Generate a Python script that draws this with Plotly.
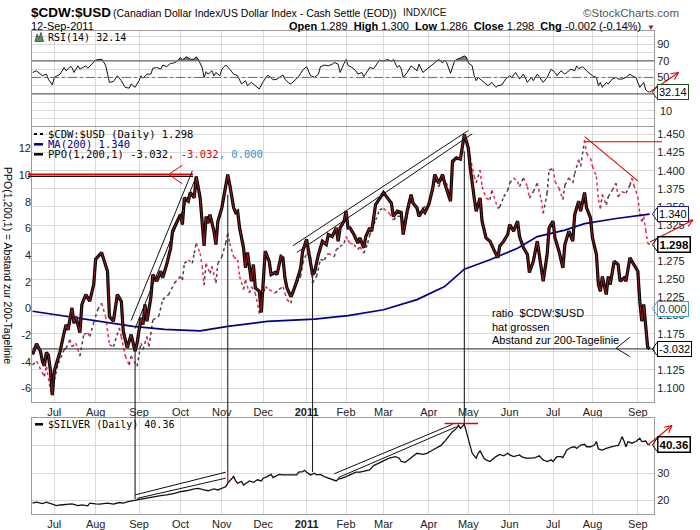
import numpy as np
import plotly.graph_objects as go

# ---------------- data ----------------
ppo_series = [
("2010-06-16",-3.45),("2010-06-18",-2.65),("2010-06-22",-3.2),("2010-06-23",-3.95),("2010-06-24",-4.3),
("2010-06-25",-3.3),("2010-06-28",-3.5),("2010-06-29",-4.6),("2010-06-30",-6.5),("2010-07-01",-4.7),
("2010-07-02",-4.2),("2010-07-07",-3.2),("2010-07-09",-1.8),("2010-07-12",-1.2),("2010-07-13",-1.6),
("2010-07-14",-0.7),("2010-07-15",0.05),("2010-07-16",-1.1),("2010-07-19",-0.6),("2010-07-21",-1.8),
("2010-07-22",0.3),("2010-07-26",1.05),("2010-07-28",0.55),("2010-07-30",1.8),("2010-08-02",3.7),
("2010-08-05",4.2),("2010-08-10",2.8),("2010-08-11",-0.6),("2010-08-13",-0.95),("2010-08-17",1.05),
("2010-08-19",0.55),("2010-08-20",-1.7),("2010-08-24",-2.95),("2010-08-26",-1.95),("2010-08-30",-3.2),
("2010-08-31",-2.6),("2010-09-02",-0.7),("2010-09-03",-1.2),("2010-09-07",0.3),("2010-09-08",-0.95),
("2010-09-10",0.8),("2010-09-13",2.55),("2010-09-15",2.05),("2010-09-17",2.8),("2010-09-20",2.3),
("2010-09-22",3.3),("2010-09-24",4.5),("2010-09-27",5.8),("2010-10-01",7.05),("2010-10-04",6.3),
("2010-10-05",8.3),("2010-10-07",8.05),("2010-10-08",8.7),("2010-10-12",8.3),("2010-10-13",9.9),
("2010-10-15",8.3),("2010-10-18",6.55),("2010-10-19",4.7),("2010-10-20",6.9),("2010-10-21",6.4),
("2010-10-22",7.05),("2010-10-26",5.8),("2010-10-27",4.8),("2010-10-28",6.55),("2010-11-01",7.55),
("2010-11-03",9.05),("2010-11-04",10.05),("2010-11-05",9.3),("2010-11-09",7.55),("2010-11-10",7.2),
("2010-11-11",7.3),("2010-11-12",6.05),("2010-11-16",4.55),("2010-11-17",3.05),("2010-11-18",4.2),
("2010-11-22",2.05),("2010-11-23",3.3),("2010-11-24",1.55),("2010-11-29",1.3),("2010-11-30",-0.3),
("2010-12-01",2.05),("2010-12-02",4.3),("2010-12-06",3.55),("2010-12-07",2.55),("2010-12-09",2.7),
("2010-12-10",2.55),("2010-12-14",3.9),("2010-12-15",3.8),("2010-12-16",2.3),("2010-12-17",1.55),
("2010-12-21",0.9),("2010-12-22",1.2),("2010-12-27",2.05),("2010-12-29",3.05),("2010-12-30",4.3),
("2011-01-03",5.2),("2011-01-04",4.3),("2011-01-06",2.55),("2011-01-07",2.7),("2011-01-11",4.05),
("2011-01-13",5.05),("2011-01-18",4.8),("2011-01-19",5.55),("2011-01-21",5.4),("2011-01-25",6.05),
("2011-01-26",5.05),("2011-01-27",6.05),("2011-01-31",6.55),("2011-02-01",7.3),("2011-02-02",6.05),
("2011-02-03",6.05),("2011-02-07",5.55),("2011-02-09",4.9),("2011-02-10",5.3),("2011-02-14",4.55),
("2011-02-15",5.4),("2011-02-17",6.05),("2011-02-18",5.8),("2011-02-23",7.8),("2011-02-25",8.3),
("2011-03-01",8.7),("2011-03-03",8.3),("2011-03-07",7.9),("2011-03-08",6.9),("2011-03-10",7.3),
("2011-03-14",7.2),("2011-03-15",5.55),("2011-03-17",7.3),("2011-03-21",8.55),("2011-03-22",7.9),
("2011-03-24",7.55),("2011-03-25",6.9),("2011-03-29",7.4),("2011-03-30",7.2),("2011-04-01",7.8),
("2011-04-05",9.05),("2011-04-06",10.05),("2011-04-08",9.4),("2011-04-12",10.05),("2011-04-13",9.4),
("2011-04-18",8.05),("2011-04-19",11.05),("2011-04-21",11.3),("2011-04-26",11.2),("2011-04-27",12.05),
("2011-04-28",13.05),("2011-05-02",12.05),("2011-05-03",10.55),("2011-05-05",8.3),("2011-05-06",7.3),
("2011-05-10",8.3),("2011-05-11",6.55),("2011-05-13",5.3),("2011-05-17",5.05),("2011-05-19",4.4),
("2011-05-23",3.8),("2011-05-24",4.7),("2011-05-26",5.05),("2011-05-31",5.55),("2011-06-01",6.3),
("2011-06-03",5.8),("2011-06-07",6.55),("2011-06-08",5.4),("2011-06-10",4.55),("2011-06-14",4.05),
("2011-06-15",2.7),("2011-06-17",3.55),("2011-06-21",5.05),("2011-06-22",4.05),("2011-06-24",2.05),
("2011-06-28",4.05),("2011-06-29",6.05),("2011-07-01",6.55),("2011-07-05",5.3),("2011-07-07",4.3),
("2011-07-11",3.05),("2011-07-12",4.8),("2011-07-14",5.8),("2011-07-18",5.05),("2011-07-19",7.05),
("2011-07-21",8.05),("2011-07-22",7.3),("2011-07-26",8.7),("2011-07-27",7.55),("2011-07-29",6.8),
("2011-08-01",5.3),("2011-08-03",4.05),("2011-08-04",1.8),("2011-08-05",1.3),("2011-08-08",2.4),
("2011-08-10",1.05),("2011-08-11",2.4),("2011-08-12",1.8),("2011-08-16",3.55),("2011-08-18",3.3),
("2011-08-19",2.05),("2011-08-23",2.3),("2011-08-24",2.05),("2011-08-26",3.8),("2011-08-30",3.3),
("2011-08-31",3.0),("2011-09-01",2.8),("2011-09-02",0.55),("2011-09-06",-0.95),("2011-09-07",0.3),
("2011-09-08",-1.2),("2011-09-09",-2.9),("2011-09-12",-3.032)]

price_series = [
("2010-06-16",1.132),("2010-06-18",1.137),("2010-06-23",1.121),("2010-06-24",1.116),("2010-06-25",1.130),
("2010-06-29",1.098),("2010-06-30",1.092),("2010-07-01",1.111),("2010-07-06",1.134),("2010-07-09",1.153),
("2010-07-12",1.155),("2010-07-14",1.167),("2010-07-15",1.157),("2010-07-19",1.162),("2010-07-21",1.144),
("2010-07-23",1.174),("2010-07-27",1.176),("2010-07-28",1.171),("2010-07-30",1.190),("2010-08-03",1.208),
("2010-08-05",1.217),("2010-08-09",1.199),("2010-08-11",1.160),("2010-08-13",1.157),("2010-08-18",1.183),
("2010-08-19",1.171),("2010-08-23",1.144),("2010-08-25",1.132),("2010-08-26",1.144),("2010-08-31",1.130),
("2010-09-02",1.162),("2010-09-03",1.153),("2010-09-08",1.171),("2010-09-09",1.157),("2010-09-13",1.194),
("2010-09-16",1.199),("2010-09-20",1.222),("2010-09-23",1.229),("2010-09-28",1.245),("2010-10-01",1.254),
("2010-10-04",1.249),("2010-10-05",1.272),("2010-10-07",1.277),("2010-10-11",1.272),("2010-10-12",1.286),
("2010-10-13",1.300),("2010-10-15",1.286),("2010-10-18",1.268),("2010-10-19",1.242),("2010-10-20",1.272),
("2010-10-22",1.258),("2010-10-25",1.268),("2010-10-27",1.245),("2010-10-28",1.272),("2010-11-01",1.281),
("2010-11-03",1.300),("2010-11-04",1.314),("2010-11-05",1.300),("2010-11-09",1.281),("2010-11-11",1.277),
("2010-11-12",1.254),("2010-11-16",1.236),("2010-11-17",1.249),("2010-11-19",1.231),("2010-11-22",1.240),
("2010-11-24",1.231),("2010-11-29",1.203),("2010-11-30",1.217),("2010-12-02",1.240),("2010-12-06",1.236),
("2010-12-09",1.231),("2010-12-13",1.236),("2010-12-15",1.240),("2010-12-16",1.231),("2010-12-17",1.222),
("2010-12-21",1.217),("2010-12-22",1.231),("2010-12-27",1.245),("2010-12-29",1.254),("2010-12-30",1.272),
("2011-01-03",1.286),("2011-01-05",1.281),("2011-01-06",1.245),("2011-01-10",1.254),("2011-01-12",1.277),
("2011-01-14",1.277),("2011-01-19",1.286),("2011-01-24",1.281),("2011-01-25",1.291),("2011-01-27",1.295),
("2011-01-31",1.300),("2011-02-01",1.309),("2011-02-02",1.304),("2011-02-03",1.300),("2011-02-07",1.298),
("2011-02-09",1.291),("2011-02-10",1.295),("2011-02-14",1.286),("2011-02-16",1.300),("2011-02-17",1.311),
("2011-02-23",1.332),("2011-02-25",1.346),("2011-03-01",1.348),("2011-03-04",1.341),("2011-03-08",1.332),
("2011-03-10",1.337),("2011-03-14",1.337),("2011-03-15",1.316),("2011-03-17",1.339),("2011-03-21",1.360),
("2011-03-23",1.350),("2011-03-25",1.341),("2011-03-29",1.348),("2011-04-01",1.355),("2011-04-05",1.371),
("2011-04-06",1.387),("2011-04-08",1.378),("2011-04-12",1.390),("2011-04-14",1.383),("2011-04-18",1.364),
("2011-04-19",1.410),("2011-04-21",1.415),("2011-04-26",1.417),("2011-04-27",1.424),("2011-04-28",1.449),
("2011-05-02",1.431),("2011-05-03",1.419),("2011-05-05",1.392),("2011-05-06",1.383),("2011-05-10",1.401),
("2011-05-11",1.378),("2011-05-13",1.362),("2011-05-17",1.360),("2011-05-18",1.373),("2011-05-23",1.348),
("2011-05-24",1.350),("2011-05-26",1.364),("2011-05-31",1.373),("2011-06-01",1.383),("2011-06-03",1.390),
("2011-06-07",1.385),("2011-06-08",1.378),("2011-06-10",1.390),("2011-06-14",1.378),("2011-06-15",1.362),
("2011-06-17",1.371),("2011-06-21",1.383),("2011-06-23",1.360),("2011-06-24",1.341),("2011-06-28",1.369),
("2011-06-29",1.401),("2011-07-01",1.403),("2011-07-05",1.385),("2011-07-07",1.376),("2011-07-11",1.360),
("2011-07-12",1.380),("2011-07-14",1.390),("2011-07-18",1.383),("2011-07-19",1.396),("2011-07-21",1.415),
("2011-07-22",1.406),("2011-07-26",1.442),("2011-07-27",1.424),("2011-07-29",1.417),("2011-08-01",1.406),
("2011-08-03",1.392),("2011-08-04",1.360),("2011-08-05",1.348),("2011-08-08",1.367),("2011-08-10",1.353),
("2011-08-11",1.364),("2011-08-15",1.373),("2011-08-17",1.383),("2011-08-18",1.364),("2011-08-22",1.371),
("2011-08-24",1.369),("2011-08-26",1.380),("2011-08-29",1.390),("2011-08-30",1.380),("2011-09-01",1.364),
("2011-09-02",1.341),("2011-09-06",1.330),("2011-09-07",1.337),("2011-09-08",1.318),("2011-09-09",1.300),
("2011-09-12",1.298)]

ma_series = [
("2010-06-16",1.206),("2010-07-12",1.199),("2010-08-04",1.192),("2010-08-27",1.185),("2010-09-21",1.181),
("2010-10-05",1.180),("2010-10-15",1.179),("2010-11-04",1.185),("2010-12-03",1.192),("2011-01-07",1.195),
("2011-02-02",1.200),("2011-03-01",1.208),("2011-03-24",1.222),("2011-04-13",1.240),("2011-04-28",1.264),
("2011-05-17",1.277),("2011-06-07",1.293),("2011-06-21",1.309),("2011-07-12",1.318),("2011-07-26",1.327),
("2011-08-17",1.334),("2011-09-12",1.340)]

rsi_series = [
("2010-06-16",56),("2010-06-18",58),("2010-06-23",52),("2010-06-25",54),("2010-06-28",48),("2010-06-30",41),
("2010-07-01",50),("2010-07-07",54),("2010-07-09",62),("2010-07-12",58),("2010-07-14",63),("2010-07-15",62),
("2010-07-16",56),("2010-07-20",64),("2010-07-21",60),("2010-07-26",64),("2010-07-27",61),("2010-07-30",68),
("2010-08-02",71),("2010-08-05",72),("2010-08-09",65),("2010-08-11",44),("2010-08-13",45),("2010-08-17",52),
("2010-08-19",46),("2010-08-23",38),("2010-08-25",37),("2010-08-26",42),("2010-08-30",38),("2010-09-01",46),
("2010-09-02",52),("2010-09-03",49),("2010-09-08",54),("2010-09-10",54),("2010-09-13",61),("2010-09-15",62),
("2010-09-17",60),("2010-09-20",65),("2010-09-22",63),("2010-09-24",67),("2010-09-27",67),("2010-09-29",69),
("2010-10-01",74),("2010-10-04",71),("2010-10-06",75),("2010-10-08",72),("2010-10-12",72),("2010-10-13",75),
("2010-10-14",72),("2010-10-18",62),("2010-10-19",50),("2010-10-20",57),("2010-10-21",54),("2010-10-25",58),
("2010-10-26",52),("2010-10-27",56),("2010-10-29",52),("2010-11-01",60),("2010-11-03",65),("2010-11-05",60),
("2010-11-09",54),("2010-11-11",52),("2010-11-15",42),("2010-11-17",46),("2010-11-18",40),("2010-11-22",44),
("2010-11-24",40),("2010-11-29",36),("2010-12-01",45),("2010-12-03",52),("2010-12-06",52),("2010-12-08",47),
("2010-12-10",48),("2010-12-13",50),("2010-12-15",53),("2010-12-16",48),("2010-12-20",43),("2010-12-21",42),
("2010-12-23",46),("2010-12-28",51),("2010-12-30",59),("2011-01-03",63),("2011-01-05",52),("2011-01-07",50),
("2011-01-11",54),("2011-01-12",63),("2011-01-14",65),("2011-01-19",64),("2011-01-21",66),("2011-01-24",68),
("2011-01-26",66),("2011-01-27",56),("2011-01-31",67),("2011-02-01",71.6),("2011-02-02",64.5),("2011-02-04",62),
("2011-02-08",58),("2011-02-09",54),("2011-02-11",56),("2011-02-14",51),("2011-02-16",58),("2011-02-17",62),
("2011-02-22",60.6),("2011-02-24",68),("2011-02-25",71),("2011-03-01",69.6),("2011-03-03",71.6),("2011-03-07",69.6),
("2011-03-08",71.6),("2011-03-10",62),("2011-03-11",64.5),("2011-03-14",60),("2011-03-15",50),("2011-03-17",56),
("2011-03-21",64),("2011-03-22",62),("2011-03-24",58),("2011-03-25",66),("2011-03-29",56),("2011-03-30",58),
("2011-04-01",62),("2011-04-05",66),("2011-04-06",68),("2011-04-08",71.6),("2011-04-12",67.6),("2011-04-13",71),
("2011-04-14",68),("2011-04-18",55),("2011-04-20",69.6),("2011-04-21",71.6),("2011-04-26",73.5),("2011-04-28",76),
("2011-04-29",74.7),("2011-05-02",67.6),("2011-05-04",64),("2011-05-05",52),("2011-05-06",46),("2011-05-09",50),
("2011-05-11",46),("2011-05-13",42),("2011-05-16",40),("2011-05-18",44),("2011-05-20",38),("2011-05-23",40),
("2011-05-25",41),("2011-05-27",48),("2011-06-01",52),("2011-06-02",50),("2011-06-06",56),("2011-06-07",52),
("2011-06-08",48),("2011-06-10",54),("2011-06-14",44),("2011-06-16",50),("2011-06-17",46),("2011-06-21",54),
("2011-06-23",48),("2011-06-24",44),("2011-06-28",50),("2011-06-30",60),("2011-07-05",56),("2011-07-06",52),
("2011-07-08",58),("2011-07-12",54),("2011-07-13",56),("2011-07-15",60),("2011-07-19",58),("2011-07-20",64),
("2011-07-21",60.6),("2011-07-25",63),("2011-07-27",58),("2011-07-28",56),("2011-08-01",52),("2011-08-03",50),
("2011-08-04",40),("2011-08-05",44),("2011-08-08",38),("2011-08-10",44),("2011-08-11",42),("2011-08-15",48),
("2011-08-17",50),("2011-08-18",48),("2011-08-22",48),("2011-08-24",50),("2011-08-26",54),("2011-08-29",52),
("2011-08-31",50),("2011-09-01",44),("2011-09-02",38),("2011-09-07",44),("2011-09-08",35),("2011-09-09",33),
("2011-09-12",32.14)]

silver_series = [
("2010-06-16",19.05),("2010-06-18",19.4),("2010-06-23",18.9),("2010-06-25",19.4),("2010-06-30",18.7),
("2010-07-02",18.2),("2010-07-07",18.4),("2010-07-12",18.7),("2010-07-15",18.8),("2010-07-20",18.2),
("2010-07-22",18.4),("2010-07-27",18.1),("2010-07-28",19.05),("2010-08-02",18.8),("2010-08-04",18.7),
("2010-08-10",19.05),("2010-08-13",18.7),("2010-08-18",19.3),("2010-08-20",19.05),("2010-08-25",19.7),
("2010-08-27",19.9),("2010-09-02",20.5),("2010-09-08",20.9),("2010-09-13",21.4),("2010-09-17",21.8),
("2010-09-22",22.1),("2010-09-28",22.6),("2010-10-01",23.3),("2010-10-06",23.6),("2010-10-12",24.3),
("2010-10-14",24.5),("2010-10-19",23.9),("2010-10-21",23.6),("2010-10-26",24.3),("2010-10-28",23.9),
("2010-11-02",24.8),("2010-11-03",25.1),("2010-11-04",26.4),("2010-11-09",28.8),("2010-11-10",27.2),
("2010-11-11",26.4),("2010-11-15",27.0),("2010-11-16",25.7),("2010-11-18",26.7),("2010-11-19",27.2),
("2010-11-23",26.7),("2010-11-26",27.6),("2010-11-30",27.2),("2010-12-01",28.2),("2010-12-03",28.8),
("2010-12-07",29.6),("2010-12-08",28.4),("2010-12-10",29.1),("2010-12-13",29.6),("2010-12-15",29.4),
("2010-12-17",29.4),("2010-12-22",29.4),("2010-12-27",29.4),("2010-12-28",30.4),("2010-12-30",30.6),
("2010-12-31",31.1),("2011-01-03",30.4),("2011-01-05",29.4),("2011-01-07",30.0),("2011-01-10",29.4),
("2011-01-12",29.6),("2011-01-14",28.8),("2011-01-19",28.2),("2011-01-21",27.6),("2011-01-25",27.2),
("2011-01-26",27.9),("2011-01-28",28.2),("2011-02-01",28.8),("2011-02-03",29.4),("2011-02-08",30.4),
("2011-02-10",30.4),("2011-02-15",30.9),("2011-02-17",31.2),("2011-02-22",32.8),("2011-02-24",33.6),
("2011-02-28",34.3),("2011-03-02",34.9),("2011-03-04",35.5),("2011-03-07",35.7),("2011-03-09",36.1),
("2011-03-11",35.5),("2011-03-14",34.3),("2011-03-16",34.0),("2011-03-18",35.2),("2011-03-22",36.4),
("2011-03-24",37.3),("2011-03-29",36.9),("2011-03-31",37.3),("2011-04-05",38.5),("2011-04-07",39.4),
("2011-04-11",40.1),("2011-04-13",41.6),("2011-04-15",43.4),("2011-04-19",45.2),("2011-04-21",46.4),
("2011-04-25",47.6),("2011-04-26",46.4),("2011-04-27",47.0),("2011-04-28",47.9),("2011-04-29",45.2),
("2011-05-03",40.3),("2011-05-04",37.3),("2011-05-06",35.5),("2011-05-09",37.3),("2011-05-10",38.2),
("2011-05-12",35.5),("2011-05-13",34.9),("2011-05-17",34.3),("2011-05-19",35.5),("2011-05-20",36.1),
("2011-05-24",36.9),("2011-05-26",36.4),("2011-05-31",37.3),("2011-06-01",36.7),("2011-06-03",36.1),
("2011-06-08",36.7),("2011-06-09",36.1),("2011-06-13",35.5),("2011-06-16",35.5),("2011-06-20",35.7),
("2011-06-22",36.4),("2011-06-24",34.9),("2011-06-28",34.3),("2011-06-30",34.9),("2011-07-01",34.3),
("2011-07-06",36.1),("2011-07-08",36.1),("2011-07-11",35.7),("2011-07-13",38.5),("2011-07-15",39.4),
("2011-07-19",39.7),("2011-07-20",39.1),("2011-07-22",40.3),("2011-07-26",40.6),("2011-07-27",39.7),
("2011-07-29",39.7),("2011-08-02",40.3),("2011-08-03",41.6),("2011-08-04",38.9),("2011-08-08",38.5),
("2011-08-10",39.1),("2011-08-11",39.4),("2011-08-15",39.7),("2011-08-17",40.1),("2011-08-18",40.1),
("2011-08-19",41.5),("2011-08-22",43.4),("2011-08-23",41.8),("2011-08-24",39.7),("2011-08-25",41.6),
("2011-08-29",41.0),("2011-08-31",41.6),("2011-09-02",42.8),("2011-09-06",41.6),("2011-09-08",41.8),
("2011-09-09",40.6),("2011-09-12",40.36)]

month_starts = ["2010-07-01","2010-08-02","2010-09-01","2010-10-01","2010-11-01","2010-12-01","2011-01-03",
                "2011-02-01","2011-03-01","2011-04-01","2011-05-02","2011-06-01","2011-07-01","2011-08-01","2011-09-01"]
month_names = ["Jul","Aug","Sep","Oct","Nov","Dec","<b>2011</b>","Feb","Mar","Apr","May","Jun","Jul","Aug","Sep"]
holidays = ["2010-07-05","2010-09-06","2010-11-25","2010-12-24","2011-01-17","2011-02-21",
            "2011-04-22","2011-05-30","2011-07-04","2011-09-05"]
price_ticks = [1.100,1.125,1.150,1.175,1.200,1.225,1.250,1.275,1.300,1.325,1.350,1.375,1.400,1.425,1.450]
price_tick_text = ["1.100","1.125","1.150","1.175","1.200","1.225","1.250","1.275","","1.325","1.350",
                   "1.375","1.400","1.425","1.450"]
ppo_ticks = [-6,-4,-2,0,2,4,6,8,10,12]
rsi_ticks = [0,10,20,30,40,50,60,70,80,90,100]
rsi_tick_text = ["","","","","","50","","70","","90",""]
rsi_low_label = 10
silver_ticks = [20,30,40,50]
silver_tick_text = ["20","30","",""]

ppo_d, ppo_v = map(list, zip(*ppo_series))
pr_d, pr_v = map(list, zip(*price_series))
ma_d, ma_v = map(list, zip(*ma_series))
rsi_d, rsi_v = map(list, zip(*rsi_series))
sil_d, sil_v = map(list, zip(*silver_series))

# ---------------- geometry ----------------
W, H = 700, 530
PL, PR, PT, PB = 32, 654, 31, 514
def fx(px): return (px - PL) / (PR - PL)
def fy(py): return (PB - py) / (PB - PT)
dom_rsi = [fy(125.5), 1.0]
dom_main = [fy(402), fy(126.5)]
dom_sil = [0.0, fy(418.3)]
rng_rsi = [-8.1, 106.1]
rng_price = [1.0807, 1.461]
rng_ppo = [-7.01, 13.65]
rng_sil = [15.1, 50.1]
x_range = ["2010-06-15 17:00", "2011-09-14 05:00"]
def vy(v, rng, dom): return dom[0] + (v - rng[0]) / (rng[1] - rng[0]) * (dom[1] - dom[0])

AX = "Liberation Sans, Arial, sans-serif"
MONO = "DejaVu Sans Mono, monospace"
GRID = "#d9d9d9"
FRAME = "#9a9a9a"

fig = go.Figure()
# RSI
fig.add_trace(go.Scatter(x=rsi_d, y=[70]*len(rsi_v), xaxis="x", yaxis="y", mode="lines",
                         line=dict(width=0, color="rgba(0,0,0,0)"), hoverinfo="skip"))
fig.add_trace(go.Scatter(x=rsi_d, y=list(np.maximum(np.array(rsi_v), 70)), xaxis="x", yaxis="y", mode="lines",
                         fill="tonexty", fillcolor="#6b8a6b", line=dict(width=0, color="rgba(0,0,0,0)"), hoverinfo="skip"))
fig.add_trace(go.Scatter(x=rsi_d, y=rsi_v, xaxis="x", yaxis="y", mode="lines", line=dict(color="#111", width=1)))

# price dotted: up segments black, down segments red
ux, uy, dx, dy = [], [], [], []
for i in range(len(pr_v) - 1):
    tx, ty = (ux, uy) if pr_v[i+1] >= pr_v[i] else (dx, dy)
    tx += [pr_d[i], pr_d[i+1], None]
    ty += [pr_v[i], pr_v[i+1], None]
fig.add_trace(go.Scatter(x=ux, y=uy, xaxis="x2", yaxis="y2", mode="lines", line=dict(color="#444", width=1.5, dash="dot")))
fig.add_trace(go.Scatter(x=dx, y=dy, xaxis="x2", yaxis="y2", mode="lines", line=dict(color="#e8274f", width=1.5, dash="dot")))
fig.add_trace(go.Scatter(x=ma_d, y=ma_v, xaxis="x2", yaxis="y2", mode="lines", line=dict(color="#00008b", width=1.7)))
# PPO
fig.add_trace(go.Scatter(x=ppo_d, y=ppo_v, xaxis="x2", yaxis="y3", mode="lines", line=dict(color="#000", width=3.2)))
fig.add_trace(go.Scatter(x=ppo_d, y=ppo_v, xaxis="x2", yaxis="y3", mode="lines", line=dict(color="#8b1c1c", width=1.1)))
# Silver
fig.add_trace(go.Scatter(x=sil_d, y=sil_v, xaxis="x3", yaxis="y4", mode="lines", line=dict(color="#111", width=1.3)))

xcommon = dict(type="date", range=x_range, automargin=False,
               rangebreaks=[dict(bounds=["sat", "mon"]), dict(values=holidays)],
               tickmode="array", tickvals=month_starts, ticktext=month_names,
               showgrid=True, gridcolor=GRID, gridwidth=1, ticks="",
               showline=True, mirror=True, linecolor=FRAME, linewidth=1,
               tickfont=dict(family=AX, size=11, color="#222"), zeroline=False)
ycommon = dict(automargin=False, ticks="", zeroline=False, tickmode="array",
               tickfont=dict(family=AX, size=11, color="#222"))

fig.update_layout(
    width=W, height=H, margin=dict(l=PL, r=W-PR, t=PT, b=H-PB, autoexpand=False),
    paper_bgcolor="white", plot_bgcolor="white", showlegend=False, hovermode=False,
    xaxis=dict(xcommon, domain=[0, 1], anchor="y", showticklabels=False),
    xaxis2=dict(xcommon, domain=[0, 1], anchor="y2"),
    xaxis3=dict(xcommon, domain=[0, 1], anchor="y4"),
    yaxis=dict(ycommon, domain=dom_rsi, anchor="x", side="right", range=rng_rsi,
               tickvals=rsi_ticks, ticktext=rsi_tick_text, showgrid=True, gridcolor=GRID,
               showline=True, mirror=True, linecolor=FRAME),
    yaxis2=dict(ycommon, domain=dom_main, anchor="x2", side="right", range=rng_price,
                tickvals=price_ticks, ticktext=price_tick_text, showgrid=True, gridcolor=GRID,
                showline=True, mirror=True, linecolor=FRAME),
    yaxis3=dict(ycommon, overlaying="y2", anchor="x2", side="left", range=rng_ppo,
                tickvals=ppo_ticks, ticktext=[str(t) for t in ppo_ticks], showgrid=False, showline=False),
    yaxis4=dict(ycommon, domain=dom_sil, anchor="x3", side="right", range=rng_sil,
                tickvals=silver_ticks, ticktext=silver_tick_text, showgrid=True, gridcolor=GRID,
                showline=True, mirror=True, linecolor=FRAME),
)

shapes = []
def seg(x0, y0, x1, y1, color="#000", width=1, xref="paper", yref="paper", dash=None):
    ln = dict(color=color, width=width)
    if dash: ln["dash"] = dash
    return dict(type="line", x0=x0, y0=y0, x1=x1, y1=y1, xref=xref, yref=yref, line=ln)

def arrow_px(x0, y0, x1, y1, color="#e00000", head=8):
    ang = np.arctan2(y1 - y0, x1 - x0)
    out = [seg(fx(x0), fy(y0), fx(x1), fy(y1), color, 1.1)]
    for a in (ang + np.pi - 0.45, ang + np.pi + 0.45):
        out.append(seg(fx(x1), fy(y1), fx(x1 + head*np.cos(a)), fy(y1 + head*np.sin(a)), color, 1.1))
    return out

# RSI reference lines
shapes.append(seg(0, vy(70, rng_rsi, dom_rsi), 1, vy(70, rng_rsi, dom_rsi), "#6a6a6a", 1.2))
shapes.append(seg(0, vy(30, rng_rsi, dom_rsi), 1, vy(30, rng_rsi, dom_rsi), "#6a6a6a", 1.2))
shapes.append(seg(0, vy(50, rng_rsi, dom_rsi), 1, vy(50, rng_rsi, dom_rsi), "#6a6a6a", 1, dash="dashdot"))

# main panel drawings (PPO scale)
shapes.append(seg(0, -3.03, 1, -3.03, "#222", 1, yref="y3"))
shapes.append(seg(fx(28), 9.9, fx(193), 9.9, "#000", 1, yref="y3"))
shapes.append(seg(fx(28), 10.05, fx(193), 10.05, "#e00000", 2.2, yref="y3"))
shapes.append(seg("2010-09-23", 10.05, "2010-10-04", 10.75, "#e00000", 1, xref="x2", yref="y3"))
shapes.append(seg("2010-09-23", 10.05, "2010-10-04", 9.35, "#e00000", 1, xref="x2", yref="y3"))
shapes.append(seg("2010-08-26", -0.9, "2010-10-11", 10.3, "#111", 1, xref="x2", yref="y3"))
shapes.append(seg("2010-08-30", -1.5, "2010-10-13", 9.9, "#111", 1, xref="x2", yref="y3"))
shapes.append(seg("2010-12-22", 4.7, "2011-05-02", 13.35, "#111", 1, xref="x2", yref="y3"))
shapes.append(seg("2010-12-27", 4.2, "2011-05-04", 13.1, "#111", 1, xref="x2", yref="y3"))
shapes.append(seg("2011-08-17", -2.98, "2011-08-26", -2.15, "#111", 1, xref="x2", yref="y3"))
shapes.append(seg("2011-08-17", -2.98, "2011-08-26", -3.6, "#111", 1, xref="x2", yref="y3"))
# main panel drawings (price scale)
shapes.append(seg("2011-07-26", 1.447, "2011-09-01", 1.386, "#e00000", 1.1, xref="x2", yref="y2"))
shapes.append(seg(fx(585), 1.440, fx(662), 1.440, "#e00000", 1.1, yref="y2"))

# vertical connector lines (PPO extreme -> silver)
for d, p, s in [("2010-08-30", -3.0, 20.6), ("2010-11-04", 8.55, 30.2),
                ("2011-01-06", 2.5, 30.4), ("2011-04-28", 11.8, 48.3)]:
    shapes.append(seg(d, vy(s, rng_sil, dom_sil), d, vy(p, rng_ppo, dom_main), "#222", 1.1, xref="x2"))

# silver drawings
shapes.append(seg("2010-11-04", 30.2, "2010-11-04", 26.4, "#e00000", 1.2, xref="x3", yref="y4"))
shapes.append(seg("2011-04-13", 48.2, "2011-05-09", 48.2, "#e00000", 1.6, xref="x3", yref="y4"))
shapes.append(seg("2010-08-30", 22.1, "2010-11-03", 30.4, "#111", 1, xref="x3", yref="y4"))
shapes.append(seg("2010-08-31", 20.8, "2010-11-03", 28.2, "#111", 1, xref="x3", yref="y4"))
shapes.append(seg("2011-01-24", 29.8, "2011-04-19", 47.9, "#111", 1, xref="x3", yref="y4"))
shapes.append(seg("2011-01-26", 28.4, "2011-04-21", 47.0, "#111", 1, xref="x3", yref="y4"))

# red arrows to the right
shapes += arrow_px(650, 92, 678.5, 72.5)
shapes += arrow_px(650, 242, 693, 220)
shapes += arrow_px(648.5, 444.5, 672, 425.5)

# legend icons
shapes.append(seg(fx(34), fy(134), fx(43), fy(134), "#000", 2, dash="dot"))
shapes.append(seg(fx(34), fy(144.3), fx(43), fy(144.3), "#00008b", 2.5))
shapes.append(seg(fx(34), fy(154.3), fx(43), fy(154.3), "#000", 2.5))
shapes.append(seg(fx(35), fy(424.3), fx(43), fy(424.3), "#000", 2.5))
mtn = [(35, 41.5), (37, 34), (39, 38), (41, 32.5), (43.5, 41.5)]
shapes.append(dict(type="path", xref="paper", yref="paper",
                   path="M " + " L ".join("%.5f,%.5f" % (fx(a), fy(b)) for a, b in mtn) + " Z",
                   fillcolor="#5f8a5f", line=dict(color="#2f4f2f", width=0.8)))

ann = []
def txt(x, y, s, size=11, color="#000", family=AX, xanchor="left", xref="paper", yref="paper", **kw):
    d = dict(x=x, y=y, xref=xref, yref=yref, text=s, showarrow=False, xanchor=xanchor, yanchor="middle",
             font=dict(family=family, size=size, color=color))
    d.update(kw)
    ann.append(d)

def tag(s, val, rng, dom, yref, border, bold=False, bw=1, tcolor="#000"):
    txt(fx(657), val, "<b>%s</b>" % s if bold else s, size=11.5 if bold else 11, color=tcolor, yref=yref,
        bordercolor=border, borderwidth=bw, borderpad=1, bgcolor="white")
    yp = vy(val, rng, dom); d = 6.5 / (PB - PT)
    shapes.append(dict(type="path", xref="paper", yref="paper",
                       path="M %.5f,%.5f L %.5f,%.5f L %.5f,%.5f" % (fx(657), yp + d, fx(652.5), yp, fx(657), yp - d),
                       line=dict(color=border, width=1)))

# RSI "10" axis label (paper position computed from the RSI scale)
txt(fx(658), vy(rsi_low_label, rng_rsi, dom_rsi), str(rsi_low_label), size=11, color="#222")

tag("32.14", rsi_v[-1], rng_rsi, dom_rsi, "y", "#1f4a1f")
tag("1.340", ma_v[-1], rng_price, dom_main, "y2", "#1a1a8c")
tag("1.298", pr_v[-1], rng_price, dom_main, "y2", "#000", bold=True, bw=1.5)
tag("0.000", 0.0, rng_ppo, dom_main, "y3", "#3d9dd0", tcolor="#333")
tag("-3.032", ppo_v[-1], rng_ppo, dom_main, "y3", "#000")
tag("40.36", sil_v[-1], rng_sil, dom_sil, "y4", "#000", bold=True, bw=1.5)

# headers
txt(fx(29), fy(12), "<b>$CDW:$USD</b>", size=13.5, family=AX)
txt(fx(111), fy(12.5), "(Canadian Dollar Index/US Dollar Index - Cash Settle (EOD))", size=10.5, family=AX)
txt(fx(401), fy(12.5), "INDX/ICE", size=10, family=AX, color="#111")
txt(fx(681), fy(13), "©StockCharts.com", size=11.5, family=AX, color="#555", xanchor="right")
txt(fx(29), fy(26.5), "12-Sep-2011", size=11, family=AX)
txt(fx(643), fy(26.5), "<b>Open</b> 1.289  <b>High</b> 1.300  <b>Low</b> 1.286  <b>Close</b> 1.298  <b>Chg</b> -0.002 (-0.14%)",
    size=11, family=AX, xanchor="right")
txt(fx(645), fy(27), "▼", size=8, color="#8b1a3a")

# legends
txt(fx(46), fy(37), "RSI(14) 32.14", size=10, family=MONO)
txt(fx(46), fy(134), "$CDW:$USD (Daily) 1.298", size=10.5, family=MONO)
txt(fx(46), fy(144.3), "MA(200) 1.340", size=10.5, family=MONO, color="#00008b")
txt(fx(46), fy(154.3), "PPO(1,200,1) -3.032<span style='color:#e00000'>, -3.032</span><span style='color:#2f95cf'>, 0.000</span>",
    size=10.5, family=MONO)
txt(fx(46), fy(424.3), "$SILVER (Daily) 40.36", size=10, family=MONO)

# axis title (left) and chart notes
txt(fx(8), fy(265), "PPO(1,200,1) = Abstand zur 200-Tagelinie", size=10.5, textangle=90, xanchor="center")
txt("2011-05-17", -0.36, "ratio&nbsp; $CDW:$USD", size=11, xref="x2", yref="y3")
txt("2011-05-17", -1.37, "hat grossen", size=11, xref="x2", yref="y3")
txt("2011-05-17", -2.36, "Abstand zur 200-Tagelinie", size=11, xref="x2", yref="y3")

fig.update_layout(shapes=shapes, annotations=ann)
fig.write_html("out.html", config={"displayModeBar": False, "staticPlot": True},
               post_script=["document.body.style.margin='0';document.body.style.padding='0';"])
